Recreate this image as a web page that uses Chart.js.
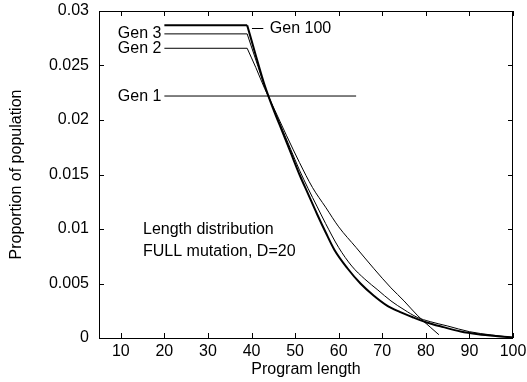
<!DOCTYPE html>
<html>
<head>
<meta charset="utf-8">
<script src="https://cdn.jsdelivr.net/npm/chart.js@4.4.0/dist/chart.umd.min.js"></script>
<style>
  html, body { margin: 0; padding: 0; background: #fff; }
  #chart { display: block; }
</style>
</head>
<body>
<canvas id="chart" width="527" height="382"></canvas>
<script>
// axis ticks
const xTicks = [10, 20, 30, 40, 50, 60, 70, 80, 90, 100];
const yTicks = [0, 0.005, 0.01, 0.015, 0.02, 0.025, 0.03];
const yTickLabels = ['0', '0.005', '0.01', '0.015', '0.02', '0.025', '0.03'];

// Gen 1 - uniform start
const gen1X = [20, 64];
const gen1Y = [0.0222, 0.0222];

// Gen 2 (flat part 20..39, then the tail)
const gen2X = [20, 39, 41, 43, 45, 48, 51, 54, 57, 60, 64, 68, 72, 75, 78, 81, 83];
const gen2Y = [0.02658, 0.02658, 0.0248, 0.0229, 0.0212, 0.0186, 0.0161, 0.0138, 0.0120, 0.0102,
  0.0083, 0.0064, 0.0046, 0.0034, 0.0021, 0.0010, 0.0003];

// Gen 3
const gen3X = [20, 39, 41, 43, 45, 47, 49, 51, 53, 55, 57, 60, 63, 66, 69, 72, 75, 78, 81, 85, 90, 95, 100];
const gen3Y = [0.0279, 0.0279, 0.0255, 0.0231, 0.0211, 0.0192, 0.0173, 0.0154, 0.0137, 0.0121, 0.0105,
  0.0083, 0.0066, 0.0054, 0.0044, 0.0034, 0.0026, 0.0019, 0.0015, 0.0011, 0.00058, 0.00028, 0.00005];

// Gen 100
const gen100X = [20, 39, 41, 43, 45, 47, 49, 51, 53, 55, 57, 59, 62, 65, 68, 71, 74, 77, 80, 84, 88, 92, 96, 100];
const gen100Y = [0.0287, 0.0287, 0.0259, 0.0232, 0.0210, 0.0190, 0.0170, 0.0150, 0.0132, 0.0114, 0.0097,
  0.0081, 0.0064, 0.0050, 0.0039, 0.0030, 0.0024, 0.0019, 0.00145, 0.0010, 0.0006, 0.00035, 0.00018, 0.00005];

const FONT = '"Liberation Sans", Arial, Helvetica, sans-serif';

function toPoints(xs, ys) {
  return xs.map((x, i) => ({ x: x, y: ys[i] }));
}

// frame with inward ticks on all four sides, plus the text labels
const framePlugin = {
  id: 'frame',
  afterDraw(chart) {
    const { ctx, chartArea: a } = chart;
    const xs = chart.scales.x;
    const ys = chart.scales.y;
    ctx.save();
    ctx.strokeStyle = '#000';
    ctx.lineWidth = 1;
    ctx.strokeRect(a.left + 0.5, a.top + 0.5, a.right - a.left - 1, a.bottom - a.top);
    ctx.beginPath();
    xTicks.forEach(v => {
      const px = Math.round(xs.getPixelForValue(v)) + 0.5;
      ctx.moveTo(px, a.bottom); ctx.lineTo(px, a.bottom - 5);
      ctx.moveTo(px, a.top); ctx.lineTo(px, a.top + 5);
    });
    yTicks.forEach(v => {
      const py = Math.round(ys.getPixelForValue(v)) + 0.5;
      ctx.moveTo(a.left, py); ctx.lineTo(a.left + 5, py);
      ctx.moveTo(a.right, py); ctx.lineTo(a.right - 5, py);
    });
    ctx.stroke();

    ctx.fillStyle = '#000';
    ctx.font = '16px ' + FONT;
    ctx.textBaseline = 'middle';

    // series labels, right-aligned before the start of each line
    ctx.textAlign = 'right';
    const labelX = xs.getPixelForValue(20) - 3;
    ctx.fillText('Gen 1', labelX, ys.getPixelForValue(gen1Y[0]) + 1);
    ctx.fillText('Gen 2', labelX, ys.getPixelForValue(gen2Y[0]));
    ctx.fillText('Gen 3', labelX, ys.getPixelForValue(gen3Y[0]));

    // Gen 100 with a short pointer line
    const gy = Math.round(ys.getPixelForValue(0.02845)) + 0.5;
    ctx.beginPath();
    ctx.moveTo(xs.getPixelForValue(40.1), gy);
    ctx.lineTo(xs.getPixelForValue(42.7), gy);
    ctx.stroke();
    ctx.textAlign = 'left';
    ctx.fillText('Gen 100', xs.getPixelForValue(44.2), gy);

    ctx.fillText('Length distribution', xs.getPixelForValue(15.1), ys.getPixelForValue(0.0099));
    ctx.fillText('FULL mutation, D=20', xs.getPixelForValue(15.1), ys.getPixelForValue(0.0079));
    ctx.restore();
  }
};

// the flat head is drawn straight, the tail as a smooth monotone curve
function seriesSets(label, xs, ys, width, flatEnd) {
  const base = {
    showLine: true,
    borderColor: '#000',
    borderWidth: width,
    pointRadius: 0,
    fill: false
  };
  const k = xs.indexOf(flatEnd);
  if (k < 0) {
    return [Object.assign({ label: label, data: toPoints(xs, ys), tension: 0 }, base)];
  }
  return [
    Object.assign({ label: label, data: toPoints(xs.slice(0, k + 1), ys.slice(0, k + 1)), tension: 0 }, base),
    Object.assign({ label: label + ' tail', data: toPoints(xs.slice(k), ys.slice(k)), cubicInterpolationMode: 'monotone' }, base)
  ];
}

const ctx = document.getElementById('chart').getContext('2d');
new Chart(ctx, {
  type: 'scatter',
  data: {
    datasets: [
      ...seriesSets('Gen 1', gen1X, gen1Y, 1, null),
      ...seriesSets('Gen 2', gen2X, gen2Y, 1, 39),
      ...seriesSets('Gen 3', gen3X, gen3Y, 1, 39),
      ...seriesSets('Gen 100', gen100X, gen100Y, 2, 39)
    ]
  },
  options: {
    responsive: false,
    animation: false,
    devicePixelRatio: 1,
    layout: { padding: { left: 0, right: 14, top: 11, bottom: 0 } },
    plugins: {
      legend: { display: false },
      tooltip: { enabled: false }
    },
    scales: {
      x: {
        type: 'linear',
        min: 5,
        max: 100,
        afterBuildTicks: s => { s.ticks = xTicks.map(v => ({ value: v })); },
        afterFit: s => { s.height = 44; s.paddingLeft = 0; s.paddingRight = 0; },
        grid: { display: false },
        border: { display: false },
        ticks: {
          color: '#000',
          padding: -4,
          maxRotation: 0,
          font: { family: FONT, size: 16 },
          callback: v => String(v)
        },
        title: {
          display: true,
          text: 'Program length',
          color: '#000',
          font: { family: FONT, size: 16 },
          padding: { top: 0, bottom: 3 }
        }
      },
      y: {
        type: 'linear',
        min: 0,
        max: 0.03,
        afterBuildTicks: s => { s.ticks = yTicks.map(v => ({ value: v })); },
        afterFit: s => { s.width = 99; s.paddingTop = 0; s.paddingBottom = 0; },
        grid: { display: false },
        border: { display: false },
        ticks: {
          color: '#000',
          padding: 2,
          font: { family: FONT, size: 16 },
          callback: v => yTickLabels[yTicks.indexOf(v)] ?? String(v)
        },
        title: {
          display: true,
          text: 'Proportion of population',
          color: '#000',
          font: { family: FONT, size: 16 },
          padding: { top: 7, bottom: 0 }
        }
      }
    }
  },
  plugins: [framePlugin]
});
</script>
</body>
</html>
